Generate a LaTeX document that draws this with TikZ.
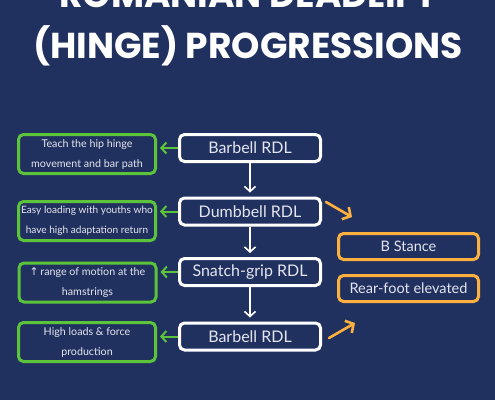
\documentclass[tikz,border=0pt]{standalone}
\usepackage{fontspec}
\setmainfont{Lato}
\newfontfamily\titlefont{Poppins}
\newfontfamily\symfont{DejaVu Sans}
\usetikzlibrary{arrows.meta,calc}

\definecolor{navy}{HTML}{21315F}
\definecolor{leafgreen}{HTML}{5CC43A}
\definecolor{amber}{HTML}{FBB040}
\definecolor{paletext}{HTML}{E4E6EF}

\tikzset{
  liftbox/.style={draw=white, line width=3pt, rounded corners=5pt, minimum width=141pt,
    minimum height=27pt, inner sep=0pt, text=paletext, font=\fontsize{16}{18}\selectfont},
  cuebox/.style={draw=leafgreen, line width=3pt, rounded corners=5pt, minimum width=137pt,
    minimum height=39pt, inner sep=0pt, align=center, text=paletext,
    font=\fontsize{10.7}{20}\selectfont},
  varbox/.style={draw=amber, line width=3pt, rounded corners=5pt, minimum width=140pt,
    minimum height=26pt, inner sep=0pt, text=paletext, font=\fontsize{14.5}{16}\selectfont},
  nextarrow/.style={white, line width=1.6pt, -{Straight Barb[length=5pt,width=11pt]}},
  cuearrow/.style={leafgreen, line width=2pt, -{Straight Barb[length=5pt,width=11pt]}},
  vararrow/.style={amber, line width=2.6pt, line cap=round, -{Straight Barb[length=6pt,width=14pt]}}
}

\begin{document}
\begin{tikzpicture}[x=1pt, y=-1pt]
    \fill[navy] (0,0) rectangle (495,400);
    \useasboundingbox (0,0) rectangle (495,400);

    % Titel
    \node[anchor=base, text=white, font=\titlefont\bfseries\fontsize{36}{40}\selectfont]
        (title1) at (248,7) {ROMANIAN DEADLIFT};
    \node[anchor=base, text=white, font=\titlefont\bfseries\fontsize{36}{40}\selectfont]
        (title2) at (248,58) {(HINGE) PROGRESSIONS};

    % Progression in der Mitte
    \node[liftbox] (barbA) at (250,148) {Barbell RDL};
    \node[liftbox] (dumb) at (250,211.5) {Dumbbell RDL};
    \node[liftbox] (snatch) at (250,272) {Snatch-grip RDL};
    \node[liftbox] (barbB) at (250,336.5) {Barbell RDL};

    \draw[nextarrow, shorten >=4pt] (barbA) -- (dumb);
    \draw[nextarrow, shorten >=4pt] (dumb) -- (snatch);
    \draw[nextarrow, shorten >=4pt] (snatch) -- (barbB);

    % Ziele links
    \node[cuebox] (cueA) at (87,154) {Teach the hip hinge\\movement and bar path};
    \node[cuebox, font=\fontsize{10.1}{20}\selectfont] (cueB) at (87,221)
        {Easy loading with youths who\\have high adaptation return};
    \node[cuebox] (cueC) at (87.5,282.5) {{\symfont↑}\,range of motion at the\\hamstrings};
    \node[cuebox] (cueD) at (87,342) {High loads \& force\\production};

    \draw[cuearrow] (barbA.west) -- ([xshift=3pt]barbA.west -| cueA.east);
    \draw[cuearrow] (dumb.west) -- ([xshift=3pt]dumb.west -| cueB.east);
    \draw[cuearrow] (snatch.west) -- ([xshift=3pt]snatch.west -| cueC.east);
    \draw[cuearrow] (barbB.west) -- ([xshift=3pt]barbB.west -| cueD.east);

    % Varianten rechts
    \node[varbox] (bstance) at (408.5,246.5) {B Stance};
    \node[varbox] (rearfoot) at (408.5,288.5) {Rear-foot elevated};

    \coordinate (varA) at (326,202);
    \coordinate (varB) at (352,217);
    \coordinate (varC) at (329,338);
    \coordinate (varD) at (355,323);
    \draw[vararrow] (varA) -- (varB);
    \draw[vararrow] (varC) -- (varD);
\end{tikzpicture}
\end{document}
